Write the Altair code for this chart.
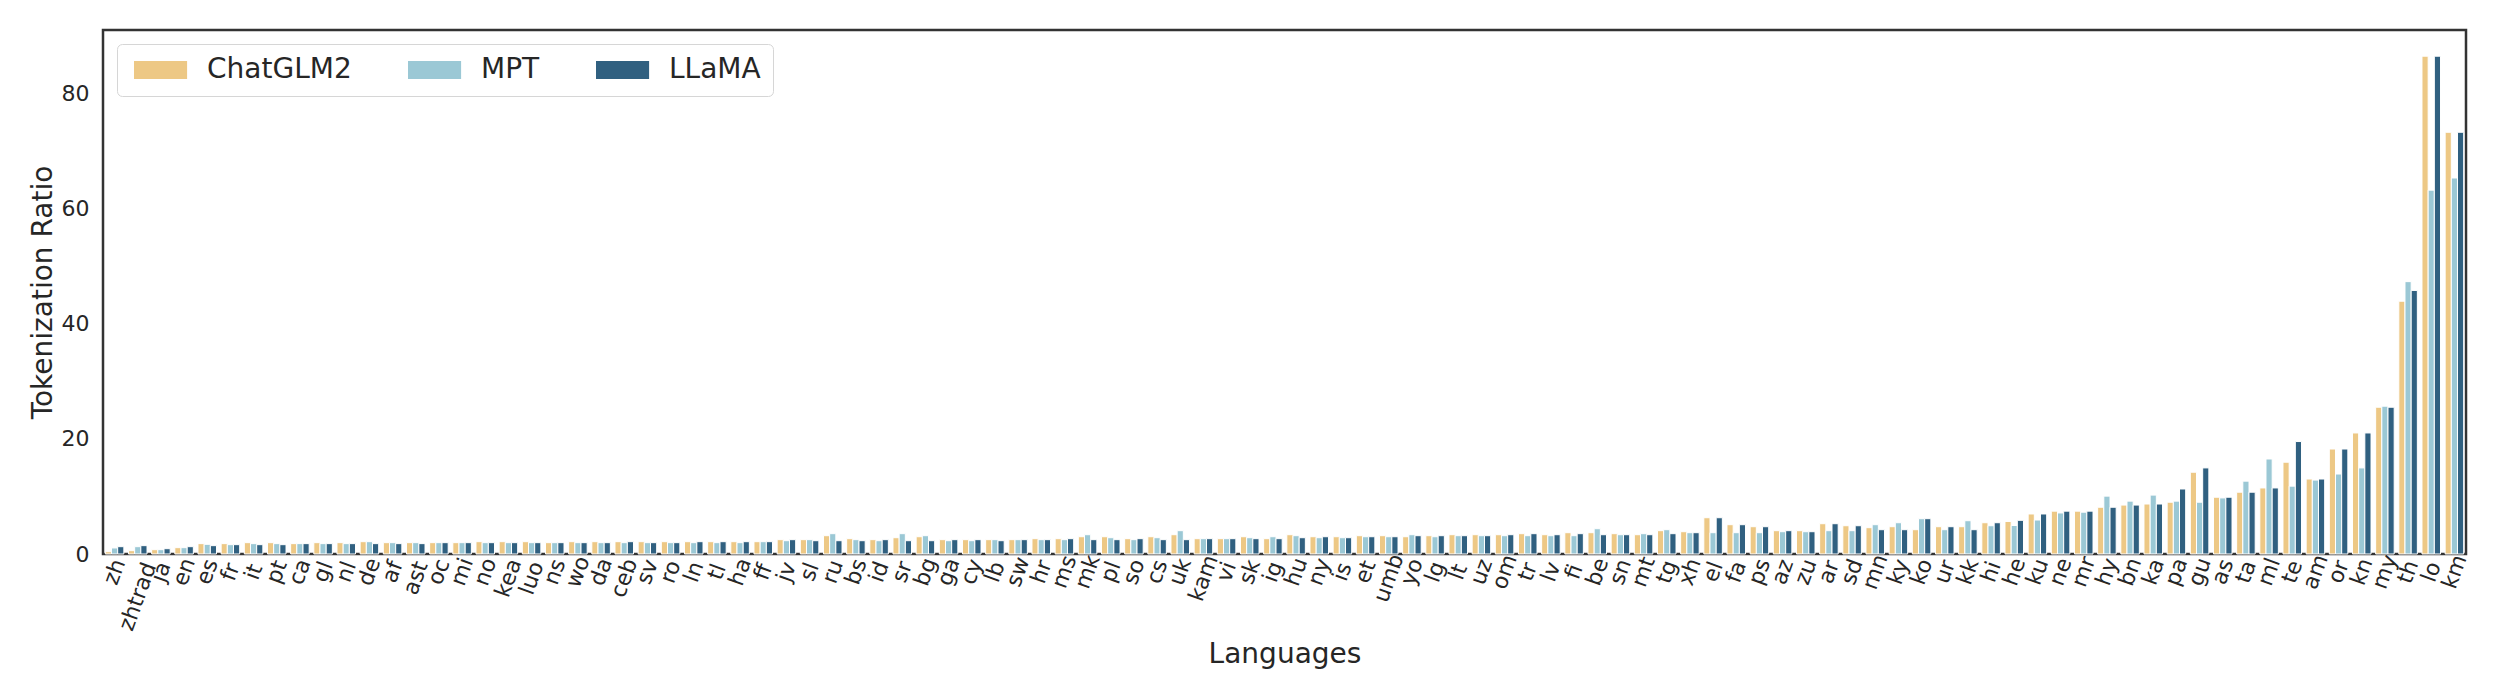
import altair as alt
import pandas as pd

languages = ["zh", "zhtrad", "ja", "en", "es", "fr", "it", "pt", "ca", "gl", "nl", "de", "af", "ast",
             "oc", "mi", "no", "kea", "luo", "ns", "wo", "da", "ceb", "sv", "ro", "ln", "tl", "ha",
             "ff", "jv", "sl", "ru", "bs", "id", "sr", "bg", "ga", "cy", "lb", "sw", "hr", "ms",
             "mk", "pl", "so", "cs", "uk", "kam", "vi", "sk", "ig", "hu", "ny", "is", "et", "umb",
             "yo", "lg", "lt", "uz", "om", "tr", "lv", "fi", "be", "sn", "mt", "tg", "xh", "el",
             "fa", "ps", "az", "zu", "ar", "sd", "mn", "ky", "ko", "ur", "kk", "hi", "he", "ku",
             "ne", "mr", "hy", "bn", "ka", "pa", "gu", "as", "ta", "ml", "te", "am", "or", "kn",
             "my", "th", "lo", "km"]

chatglm2 = [0.4, 0.58, 0.75, 1.1, 1.8, 1.8, 1.97, 1.97, 1.8, 1.97, 1.97, 2.14, 1.97, 1.97,
            1.97, 1.97, 2.14, 2.14, 2.14, 1.97, 2.14, 2.14, 2.14, 2.14, 2.14, 2.14, 2.14, 2.14,
            2.14, 2.49, 2.49, 3.18, 2.66, 2.49, 2.83, 3.0, 2.49, 2.49, 2.49, 2.49, 2.66, 2.66,
            3.0, 3.0, 2.66, 3.0, 3.35, 2.66, 2.66, 3.0, 2.66, 3.35, 3.0, 3.0, 3.18, 3.18,
            3.0, 3.18, 3.35, 3.35, 3.35, 3.53, 3.35, 3.7, 3.7, 3.53, 3.35, 4.05, 3.87, 6.3,
            5.09, 4.74, 4.05, 4.05, 5.26, 4.91, 4.57, 4.74, 4.22, 4.74, 4.74, 5.43, 5.65, 6.95,
            7.44, 7.44, 8.12, 8.5, 8.68, 8.99, 14.2, 9.86, 10.73, 11.47, 15.94, 13.02, 18.23, 21.02,
            25.49, 43.9, 86.45, 73.24]

mpt = [1.05, 1.27, 0.75, 1.1, 1.68, 1.62, 1.8, 1.8, 1.8, 1.8, 1.8, 2.14, 1.97, 1.97,
       1.97, 1.97, 1.97, 1.97, 1.97, 1.97, 1.97, 1.97, 1.97, 1.97, 1.97, 1.97, 1.97, 1.97,
       2.14, 2.31, 2.49, 3.53, 2.49, 2.31, 3.53, 3.18, 2.31, 2.31, 2.49, 2.49, 2.49, 2.49,
       3.35, 2.83, 2.49, 2.83, 4.05, 2.66, 2.66, 2.83, 3.0, 3.18, 2.83, 2.83, 3.0, 3.0,
       3.35, 3.0, 3.18, 3.18, 3.18, 3.18, 3.18, 3.18, 4.39, 3.35, 3.53, 4.22, 3.7, 3.7,
       3.7, 3.7, 3.87, 3.87, 4.05, 4.05, 5.09, 5.43, 6.13, 4.22, 5.78, 4.91, 4.95, 5.9,
       7.13, 7.26, 10.05, 9.18, 10.23, 9.18, 8.99, 9.74, 12.65, 16.5, 11.78, 12.84, 13.89, 14.95,
       25.67, 47.3, 63.19, 65.3]

llama = [1.27, 1.45, 0.92, 1.27, 1.45, 1.62, 1.62, 1.62, 1.8, 1.8, 1.8, 1.8, 1.8, 1.8,
         1.97, 1.97, 1.97, 1.97, 1.97, 1.97, 1.97, 1.97, 2.14, 1.97, 1.97, 2.14, 2.14, 2.14,
         2.14, 2.49, 2.31, 2.31, 2.31, 2.49, 2.31, 2.31, 2.49, 2.49, 2.31, 2.49, 2.49, 2.66,
         2.49, 2.49, 2.66, 2.49, 2.49, 2.66, 2.66, 2.66, 2.66, 2.83, 3.0, 2.83, 3.0, 3.0,
         3.18, 3.18, 3.18, 3.18, 3.35, 3.53, 3.35, 3.53, 3.35, 3.35, 3.35, 3.53, 3.7, 6.3,
         5.09, 4.74, 4.05, 3.87, 5.26, 4.91, 4.22, 4.22, 6.13, 4.74, 4.22, 5.43, 5.85, 6.95,
         7.44, 7.44, 8.12, 8.5, 8.68, 11.29, 14.95, 9.86, 10.73, 11.47, 19.53, 13.02, 18.23, 21.02,
         25.49, 45.77, 86.45, 73.24]

models = ["ChatGLM2", "MPT", "LLaMA"]
colors = ["#EDC885", "#9BC8D5", "#306080"]
y_ticks = [0, 20, 40, 60, 80]

rows = []
for m, vals in zip(models, [chatglm2, mpt, llama]):
    for lang, v in zip(languages, vals):
        rows.append({"Language": lang, "Model": m, "Ratio": v})
df = pd.DataFrame(rows)

font = "DejaVu Sans"
txt = "#262626"

chart = alt.Chart(df).mark_bar(stroke="white", strokeWidth=1).encode(
    x=alt.X(
        "Language:N", sort=languages,
        scale=alt.Scale(paddingInner=0.2, paddingOuter=0.1),
        axis=alt.Axis(
            title="Languages", labelAngle=-70, labelAlign="center", labelBaseline="middle",
            labelPadding={"expr": "5 + length(datum.label) * 6.2"},
            labelOverlap=False, ticks=False, domain=False, grid=False,
            labelFontSize=22, labelFont=font, labelColor=txt,
            titleFontSize=28, titleFont=font, titleColor=txt, titleFontWeight="normal",
            titleY=100, titleBaseline="middle",
        ),
    ),
    xOffset=alt.XOffset("Model:N", sort=models, scale=alt.Scale(paddingInner=0, paddingOuter=0)),
    y=alt.Y(
        "Ratio:Q",
        scale=alt.Scale(domain=[0, 91], nice=False),
        axis=alt.Axis(
            title="Tokenization Ratio", values=y_ticks, grid=False, ticks=False, domain=False,
            labelPadding=14, labelFontSize=22, labelFont=font, labelColor=txt,
            titleFontSize=28, titleFont=font, titleColor=txt, titleFontWeight="normal",
            titleX=-60, titleY=262, titleBaseline="middle",
        ),
    ),
    color=alt.Color(
        "Model:N", sort=models, title=None,
        scale=alt.Scale(domain=models, range=colors),
        legend=alt.Legend(
            orient="top-left", direction="horizontal", columns=3, offset=14,
            symbolType="M-1,-1H4.9V1H-1Z", symbolSize=324, symbolStrokeWidth=0,
            symbolOpacity=1,
            labelFontSize=28, labelFont=font, labelColor=txt, labelOffset=50,
            columnPadding=51, padding=12, strokeColor="#d6d6d6", fillColor="white",
            cornerRadius=5,
        ),
    ),
).properties(
    width=2363, height=524,
    padding={"left": 21, "top": 22, "right": 10, "bottom": 5},
).configure_view(stroke="#333333", strokeWidth=2.5)

chart.save("out.html", embed_options={"renderer": "svg", "actions": False})
